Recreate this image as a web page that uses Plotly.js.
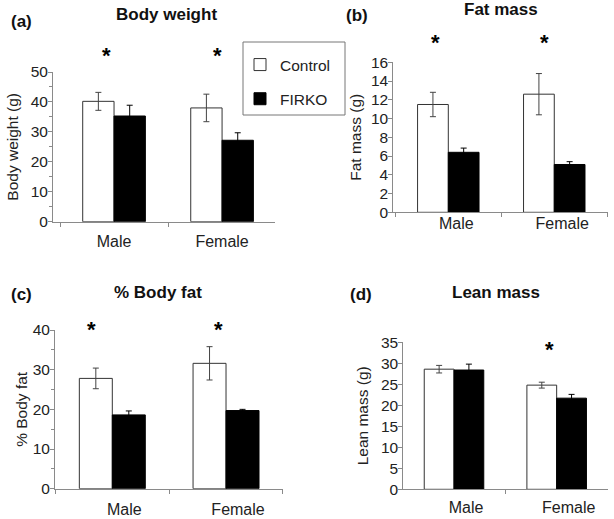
<!DOCTYPE html>
<html>
<head>
<meta charset="utf-8">
<script src="https://cdn.plot.ly/plotly-3.0.1.min.js"></script>
<style>html,body{margin:0;padding:0;background:#fff;}#chart{width:614px;height:519px;}</style>
</head>
<body>
<div id="chart"></div>
<script>
// ---- data ----
const categories = ['Male', 'Female'];
const seriesNames = ['Control', 'FIRKO'];
const panelLetters = ['(a)', '(b)', '(c)', '(d)'];
const panelTitles = ['Body weight', 'Fat mass', '% Body fat', 'Lean mass'];
const yTitles = ['Body weight (g)', 'Fat mass (g)', '% Body fat', 'Lean mass (g)'];

const bodyWeightControl = [40.2, 38.0];
const bodyWeightControlErr = [3.0, 4.6];
const bodyWeightFirko = [35.3, 27.2];
const bodyWeightFirkoErr = [3.6, 2.5];

const fatMassControl = [11.5, 12.6];
const fatMassControlErr = [1.3, 2.2];
const fatMassFirko = [6.4, 5.1];
const fatMassFirkoErr = [0.45, 0.3];

const bodyFatControl = [27.8, 31.6];
const bodyFatControlErr = [2.6, 4.2];
const bodyFatFirko = [18.6, 19.7];
const bodyFatFirkoErr = [1.0, 0.3];

const leanMassControl = [28.6, 24.8];
const leanMassControlErr = [0.9, 0.7];
const leanMassFirko = [28.4, 21.7];
const leanMassFirkoErr = [1.4, 0.9];

// significance markers: [panel index, category]
const significant = [[0, 'Male'], [0, 'Female'], [1, 'Male'], [1, 'Female'], [2, 'Male'], [2, 'Female'], [3, 'Female']];

// ---- layout helpers ----
const W = 614, H = 519;
const px = v => v / W;
const py = v => 1 - v / H;

const panels = [
  {ctrl: bodyWeightControl, ctrlErr: bodyWeightControlErr, firko: bodyWeightFirko, firkoErr: bodyWeightFirkoErr,
   xd: [53, 275], yd: [221.7, 72], yr: [0, 50], dtick: 10, minor: 5, xr: [-0.565, 1.49], standoff: 8, lblShift: 0, lblStand: 5,
   title: [166, 14], letter: [21, 22], starY: 50.7, starShift: {Male: -8, Female: -5}},
  {ctrl: fatMassControl, ctrlErr: fatMassControlErr, firko: fatMassFirko, firkoErr: fatMassFirkoErr,
   xd: [393.3, 608], yd: [212.3, 62.3], yr: [0, 16], dtick: 2, minor: null, xr: [-0.519, 1.507], standoff: 5, lblShift: 8, lblStand: -4,
   title: [501, 10], letter: [357, 16], starY: 37.7, starShift: {Male: -13, Female: -10}},
  {ctrl: bodyFatControl, ctrlErr: bodyFatControlErr, firko: bodyFatFirko, firkoErr: bodyFatFirkoErr,
   xd: [55, 283], yd: [488.7, 330], yr: [0, 40], dtick: 10, minor: 5, xr: [-0.504, 1.501], standoff: 1, lblShift: 12, lblStand: 6,
   title: [157.5, 292.3], letter: [21, 294], starY: 324, starShift: {Male: -21, Female: -8}},
  {ctrl: leanMassControl, ctrlErr: leanMassControlErr, firko: leanMassFirko, firkoErr: leanMassFirkoErr,
   xd: [403.3, 608], yd: [489.3, 342.3], yr: [0, 35], dtick: 5, minor: null, xr: [-0.494, 1.5], standoff: 8, lblShift: 12, lblStand: 3,
   title: [496, 292.3], letter: [361, 294], starY: 344, starShift: {Female: -7}}
];

const FONT = 'Liberation Sans, Arial, Helvetica, sans-serif';
const AXC = '#8a8a8a';
const TXT = '#222222';
const traces = [];
const layout = {
  width: W, height: H,
  margin: {l: 0, r: 0, t: 0, b: 0, pad: 0},
  paper_bgcolor: '#ffffff', plot_bgcolor: 'rgba(0,0,0,0)',
  font: {family: FONT, size: 15, color: TXT},
  barmode: 'group', bargap: 0.42, bargroupgap: 0,
  showlegend: true,
  legend: {x: px(240), y: py(48), xanchor: 'left', yanchor: 'top', borderwidth: 0,
           bgcolor: 'rgba(0,0,0,0)', font: {size: 15.5, family: FONT, color: TXT}, tracegroupgap: 11, traceorder: 'grouped'},
  shapes: [{type: 'rect', xref: 'paper', yref: 'paper', x0: px(243), x1: px(345), y0: py(115), y1: py(42),
            line: {color: '#777777', width: 1}, fillcolor: 'rgba(0,0,0,0)', layer: 'below'}],
  annotations: []
};

panels.forEach((p, i) => {
  const n = i === 0 ? '' : String(i + 1);
  const xa = 'x' + n, ya = 'y' + n;
  traces.push({
    type: 'bar', x: categories, y: p.ctrl, name: seriesNames[0], legendgroup: 'ctrl', showlegend: i === 0,
    xaxis: xa, yaxis: ya,
    marker: {color: '#ffffff', line: {color: '#333333', width: 1}},
    error_y: {type: 'data', array: p.ctrlErr, visible: true, color: '#444444', thickness: 1, width: 3}
  });
  traces.push({
    type: 'bar', x: categories, y: p.firko, name: seriesNames[1], legendgroup: 'firko', showlegend: i === 0,
    xaxis: xa, yaxis: ya,
    marker: {color: '#000000', line: {color: '#000000', width: 1}},
    error_y: {type: 'data', array: p.firkoErr, visible: true, color: '#000000', thickness: 1, width: 3}
  });
  layout['xaxis' + n] = {
    domain: [px(p.xd[0]), px(p.xd[1])], anchor: ya, type: 'category', range: p.xr,
    showline: true, linecolor: AXC, linewidth: 1, showgrid: false, zeroline: false,
    ticks: 'outside', tickson: 'boundaries', ticklen: 4, tickcolor: AXC,
    ticklabelshift: p.lblShift, ticklabelstandoff: p.lblStand,
    tickfont: {size: 16, family: FONT, color: TXT}, fixedrange: true
  };
  const yax = {
    domain: [py(p.yd[0]), py(p.yd[1])], anchor: xa, range: p.yr, dtick: p.dtick, tick0: 0,
    showline: true, linecolor: AXC, linewidth: 1, showgrid: false, zeroline: false,
    ticks: 'outside', ticklen: 4, tickcolor: AXC, ticklabelstandoff: -3,
    tickfont: {size: 15.5, family: FONT, color: TXT},
    title: {text: yTitles[i], font: {size: 15.5, family: FONT, color: TXT}, standoff: p.standoff},
    fixedrange: true
  };
  if (p.minor) yax.minor = {dtick: p.minor, tick0: 0, ticks: 'outside', ticklen: 3, tickcolor: AXC};
  layout['yaxis' + n] = yax;

  layout.annotations.push({
    text: '<b>' + panelTitles[i] + '</b>', xref: 'paper', yref: 'paper', x: px(p.title[0]), y: py(p.title[1]),
    xanchor: 'center', yanchor: 'middle', showarrow: false, font: {size: 17, family: FONT, color: '#111'}
  });
  layout.annotations.push({
    text: '<b>' + panelLetters[i] + '</b>', xref: 'paper', yref: 'paper', x: px(p.letter[0]), y: py(p.letter[1]),
    xanchor: 'center', yanchor: 'middle', showarrow: false, font: {size: 17, family: FONT, color: '#111'}
  });
});

significant.forEach(([pi, cat]) => {
  const p = panels[pi];
  const n = pi === 0 ? '' : String(pi + 1);
  layout.annotations.push({
    text: '<b>*</b>', xref: 'x' + n, yref: 'paper', x: cat, y: py(p.starY), xshift: p.starShift[cat], yshift: -5,
    xanchor: 'center', yanchor: 'middle', showarrow: false, font: {size: 22, family: FONT, color: '#000'}
  });
});

Plotly.newPlot('chart', traces, layout, {displayModeBar: false, staticPlot: true});
</script>
</body>
</html>
